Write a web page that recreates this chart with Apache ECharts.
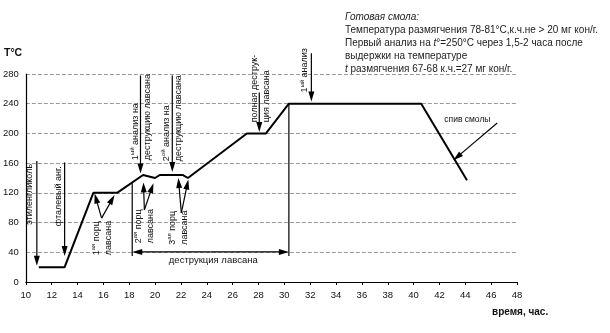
<!DOCTYPE html>
<html><head><meta charset="utf-8">
<script src="https://cdn.jsdelivr.net/npm/echarts@6/dist/echarts.min.js"></script>
<style>html,body{margin:0;padding:0;background:#fff}#c{width:610px;height:333px}</style>
</head><body><div id="c"></div>
<script>
// ---- data ----
const xTicks = [10,12,14,16,18,20,22,24,26,28,30,32,34,36,38,40,42,44,46,48];
const yTicks = [0,40,80,120,160,200,240,280];
const timeH = [11, 13, 15.22, 17.06, 19.07, 20.0, 20.36, 22.16, 22.54, 27.1, 28.58, 30.35, 40.59, 44.13];
const tempC = [20, 20, 120, 120, 144, 140, 144, 144, 140, 200, 200, 240, 240, 137];
// arrows: [t1, T1, t2, T2, hasHead]
const arrows = [
  [10.85, 163, 10.85, 22, 1],
  [13.0, 161, 13.0, 35, 1],
  [15.86, 86, 15.32, 119, 1],
  [15.86, 86, 16.86, 117, 1],
  [19.17, 97, 19.1, 134, 1],
  [19.17, 97, 19.87, 133, 1],
  [22.03, 93, 21.8, 140, 1],
  [22.03, 93, 22.57, 138, 1],
  [18.87, 278, 18.87, 146, 1],
  [21.33, 278, 21.33, 148, 1],
  [28.06, 255, 28.06, 202, 1],
  [32.09, 308, 32.09, 243, 1],
  [24.3, 40.5, 18.23, 40.5, 1],
  [24.3, 40.5, 30.35, 40.5, 1],
  [46.47, 214, 43.08, 164, 1],
  [18.23, 133, 18.23, 35, 0],
  [30.35, 240, 30.35, 35, 0]
];
// rotated labels (read bottom-to-top), anchor = bottom centre
const rotText = [
  'этиленгликоль',
  'фталевый анг.',
  '1{s|ая} порц\nлавсана',
  '2{s|ая} порц\nлавсана',
  '3{s|ая} порц\nлавсана',
  '1{s|ый} анализ на\nдеструкцию лавсана',
  '2{s|ой} анализ на\nдеструкцию лавсана',
  'полная деструк-\nция лавсана',
  '1{s|ый} анализ'
];
const rotAnchor = [
  [10.31, 77], [12.54, 75], [15.9, 36], [19.17, 52], [21.83, 50],
  [18.94, 164], [21.33, 162.6], [28.12, 215], [31.59, 255]
];
const flatText = ['деструкция лавсана', 'спив смолы'];
const flatAnchor = [[24.5, 29.6], [44.16, 219]];

const FONT = 'Liberation Sans, Arial, sans-serif';
const chart = echarts.init(document.getElementById('c'), null, {renderer: 'canvas'});

function renderArrow(params, api) {
  const a = api.coord([api.value(0), api.value(1)]);
  const b = api.coord([api.value(2), api.value(3)]);
  const head = api.value(4);
  const dx = b[0]-a[0], dy = b[1]-a[1];
  const L = Math.hypot(dx, dy), ux = dx/L, uy = dy/L;
  const hl = 10, hw = 3;
  const end = head ? [b[0]-ux*hl*0.7, b[1]-uy*hl*0.7] : b;
  const children = [{type:'line', shape:{x1:a[0], y1:a[1], x2:end[0], y2:end[1]}, style:{stroke:'#000', lineWidth:1.2}}];
  if (head) {
    children.push({type:'polygon', shape:{points:[
      [b[0], b[1]],
      [b[0]-ux*hl-uy*hw, b[1]-uy*hl+ux*hw],
      [b[0]-ux*hl+uy*hw, b[1]-uy*hl-ux*hw]
    ]}, style:{fill:'#000'}});
  }
  return {type:'group', children};
}

function renderRot(params, api) {
  const p = api.coord([api.value(0), api.value(1)]);
  const i = api.value(2);
  return {type:'text', x:p[0], y:p[1], rotation:Math.PI/2,
    style:{text: rotText[i], fill:'#111', fontSize:9, fontFamily:FONT, align:'left', verticalAlign:'middle', lineHeight:12,
      rich:{s:{fontSize:6, fill:'#111', fontFamily:FONT, verticalAlign:'top', lineHeight:12}}}};
}
function renderFlat(params, api) {
  const p = api.coord([api.value(0), api.value(1)]);
  const i = api.value(2);
  return {type:'text', x:p[0], y:p[1],
    style:{text: flatText[i], fill:'#111', fontSize: i===0 ? 9.5 : 8.5, fontFamily:FONT, align:'center', verticalAlign:'middle'}};
}

chart.setOption({
  animation:false,
  backgroundColor:'#fff',
  grid:{left:24, right:93, top:74, bottom:51, containLabel:false},
  xAxis:{type:'value', min:xTicks[0], max:xTicks[xTicks.length-1], interval:xTicks[1]-xTicks[0],
    axisLine:{onZero:false, lineStyle:{color:'#000', width:1.2}},
    axisTick:{show:true, length:3, lineStyle:{color:'#000'}},
    axisLabel:{color:'#111', fontSize:9.5, fontFamily:FONT, margin:8},
    splitLine:{show:false}},
  yAxis:{type:'value', min:yTicks[0], max:yTicks[yTicks.length-1], interval:yTicks[1]-yTicks[0],
    axisLine:{show:true, lineStyle:{color:'#000', width:1.2}},
    axisTick:{show:false},
    axisLabel:{color:'#111', fontSize:9.5, fontFamily:FONT, margin:7},
    splitLine:{show:true, lineStyle:{color:'#9a9a9a', type:[4,2], width:1}}},
  graphic:[
    {type:'text', left:4, top:48, style:{text:'T°C', fill:'#111', font:'bold 10.5px ' + FONT}},
    {type:'text', left:492, top:307, style:{text:'время, час.', fill:'#111', font:'bold 10px ' + FONT}},
    {type:'text', left:345, top:11, style:{
      text:'{i|Готовая смола:}\nТемпература размягчения 78-81°С,к.ч.не > 20 мг кон/г.\nПервый анализ на {i|t}°=250°С через 1,5-2 часа после\nвыдержки на температуре\n{i|t} размягчения 67-68 к.ч.=27 мг кон/г.',
      fill:'#222', fontSize:10, fontFamily:FONT, lineHeight:13,
      rich:{i:{fontStyle:'italic', fontSize:10, fontFamily:FONT, fill:'#222', lineHeight:13}}}}
  ],
  series:[
    {type:'line', data: timeH.map((t,i)=>[t, tempC[i]]), symbol:'none', lineStyle:{color:'#000', width:2}, z:3},
    {type:'custom', renderItem:renderArrow, data:arrows, encode:{x:[0,2], y:[1,3]}, clip:false, z:4},
    {type:'custom', renderItem:renderRot, data:rotAnchor.map((a,i)=>[a[0],a[1],i]), encode:{x:0, y:1}, clip:false, z:5},
    {type:'custom', renderItem:renderFlat, data:flatAnchor.map((a,i)=>[a[0],a[1],i]), encode:{x:0, y:1}, clip:false, z:5}
  ]
});
</script></body></html>
